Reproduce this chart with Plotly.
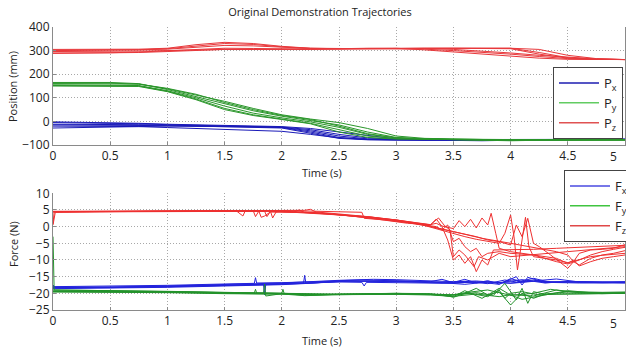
import plotly.graph_objects as go

# ---------------- data: positions (mm) ----------------
t_pos = [0, 0.25, 0.5, 0.75, 1.0, 1.25, 1.5, 1.75, 2.0, 2.25, 2.5, 2.75,
         3.0, 3.25, 3.5, 3.75, 4.0, 4.25, 4.5, 4.75, 5.0]

px1 = [-5, -6, -8, -10, -14, -17, -20, -22, -24, -35, -55, -70, -76, -77, -77, -77, -76, -76, -76, -76, -76]
px2 = [-12, -12, -13, -14, -16, -18, -20, -22, -25, -40, -62, -74, -77, -78, -78, -77, -77, -76, -76, -76, -76]
px3 = [-20, -20, -20, -22, -26, -30, -34, -38, -42, -55, -70, -76, -78, -80, -82, -82, -80, -78, -77, -76, -76]
px4 = [-28, -27, -25, -22, -20, -20, -21, -23, -26, -45, -68, -77, -79, -80, -79, -78, -77, -77, -76, -76, -76]
px5 = [-15, -15, -15, -16, -18, -20, -22, -24, -28, -50, -72, -78, -80, -80, -79, -78, -77, -77, -76, -76, -76]
px6 = [-2, -3, -5, -8, -12, -15, -18, -20, -22, -30, -45, -62, -74, -77, -78, -78, -77, -77, -76, -76, -76]

py1 = [165, 165, 165, 160, 135, 105, 75, 45, 22, 5, -15, -45, -68, -74, -76, -77, -78, -78, -78, -78, -78]
py2 = [160, 160, 160, 158, 138, 112, 85, 55, 28, 10, -5, -30, -62, -72, -75, -76, -77, -77, -77, -77, -77]
py3 = [155, 155, 155, 152, 130, 100, 65, 35, 15, -2, -25, -55, -70, -75, -77, -78, -78, -78, -78, -78, -78]
py4 = [152, 152, 152, 150, 128, 95, 55, 28, 10, -8, -35, -62, -73, -76, -78, -79, -80, -80, -80, -80, -80]
py5 = [150, 150, 150, 148, 126, 92, 50, 25, 8, -10, -45, -68, -75, -77, -78, -78, -78, -78, -78, -78, -78]
py6 = [162, 162, 162, 158, 140, 115, 80, 50, 25, 8, -20, -52, -70, -75, -78, -80, -82, -80, -79, -78, -78]

pz1 = [305, 305, 305, 306, 310, 325, 335, 330, 318, 310, 308, 309, 310, 303, 294, 285, 276, 268, 263, 262, 262]
pz2 = [300, 300, 301, 303, 308, 320, 330, 326, 316, 310, 309, 310, 310, 306, 300, 293, 285, 275, 266, 263, 262]
pz3 = [290, 290, 291, 294, 300, 307, 310, 309, 307, 306, 307, 309, 310, 310, 310, 309, 308, 285, 268, 263, 262]
pz4 = [296, 296, 297, 298, 300, 303, 305, 305, 304, 305, 307, 309, 310, 310, 310, 310, 310, 292, 270, 264, 262]
pz5 = [288, 289, 290, 292, 296, 302, 305, 305, 305, 306, 308, 310, 310, 309, 305, 298, 290, 280, 271, 265, 262]
pz6 = [302, 302, 303, 304, 306, 315, 322, 320, 313, 309, 308, 309, 310, 310, 310, 310, 310, 305, 280, 266, 262]

# ---------------- data: forces (N) ----------------
fx1_t = [0, 0.5, 1.0, 1.5, 1.76, 1.77, 1.78, 2.0, 2.5, 3.0, 3.3, 3.5, 3.6, 3.7, 3.8, 3.9, 4.0, 4.1, 4.2, 4.3, 4.5, 4.7, 5.0]
fx1_v = [-18.0, -17.9, -17.6, -17.2, -17.0, -15.3, -16.9, -16.8, -16.3, -16.4, -16.6, -16.7, -15.8, -16.9, -16.2, -17.2, -15.6, -16.5, -16.0, -16.8, -16.6, -16.7, -16.8]
fx2_t = [0, 0.02, 0.5, 1.0, 1.5, 1.84, 1.85, 1.86, 2.0, 2.2, 2.5, 2.7, 2.72, 2.74, 3.0, 3.5, 3.7, 3.9, 4.05, 4.1, 4.15, 4.3, 4.6, 5.0]
fx2_v = [-17.5, -18.3, -18.2, -17.9, -17.5, -17.3, -20.5, -17.2, -17.1, -16.9, -16.6, -16.7, -17.8, -16.7, -16.8, -17.0, -16.5, -17.3, -15.0, -17.5, -15.2, -16.7, -16.9, -16.9]
fx3_t = [0, 0.5, 1.0, 1.5, 2.0, 2.19, 2.2, 2.21, 2.5, 3.0, 3.3, 3.4, 3.5, 3.8, 4.0, 4.2, 4.4, 4.6, 4.8, 5.0]
fx3_v = [-18.4, -18.3, -18.0, -17.6, -17.1, -16.9, -14.6, -16.9, -16.4, -16.3, -16.5, -15.8, -16.8, -16.6, -16.9, -16.3, -15.7, -16.6, -16.7, -16.6]
fx4_t = [0, 0.5, 1.0, 1.5, 2.0, 2.3, 2.5, 2.7, 3.0, 3.2, 3.4, 3.6, 3.8, 4.0, 4.2, 4.4, 4.7, 5.0]
fx4_v = [-18.6, -18.5, -18.2, -17.8, -17.4, -16.9, -16.2, -16.0, -16.2, -16.4, -16.8, -17.3, -16.6, -17.0, -16.4, -16.5, -16.8, -16.8]
fx5_t = [0, 0.5, 1.0, 1.5, 2.0, 2.5, 2.8, 3.0, 3.3, 3.5, 3.7, 3.9, 4.1, 4.3, 4.5, 4.8, 5.0]
fx5_v = [-18.1, -18.1, -17.8, -17.4, -16.9, -16.1, -15.8, -15.9, -16.2, -16.5, -16.3, -16.8, -15.9, -16.9, -16.4, -16.6, -16.5]
fx6_t = [0, 0.5, 1.0, 1.5, 2.0, 2.4, 2.6, 3.0, 3.4, 3.6, 3.8, 3.95, 4.05, 4.2, 4.35, 4.5, 4.8, 5.0]
fx6_v = [-18.3, -18.3, -18.0, -17.7, -17.3, -16.7, -16.3, -16.5, -16.9, -16.4, -17.1, -16.0, -16.6, -15.5, -16.7, -16.6, -16.8, -16.7]

fy1_t = [0, 0.01, 0.5, 1.0, 1.5, 1.76, 1.77, 1.78, 2.0, 2.2, 2.5, 3.0, 3.4, 3.5, 3.6, 3.7, 3.8, 3.9, 4.0, 4.1, 4.2, 4.3, 4.5, 4.8, 5.0]
fy1_v = [-3.0, -19.0, -19.2, -19.5, -19.8, -19.9, -18.8, -19.9, -20.0, -20.6, -20.3, -20.1, -20.3, -21.2, -20.0, -18.5, -20.5, -19.5, -23.5, -20.0, -21.5, -20.2, -19.6, -19.9, -19.8]
fy2_t = [0, 0.5, 1.0, 1.5, 1.84, 1.85, 1.86, 2.0, 2.25, 2.5, 3.0, 3.5, 3.7, 3.85, 3.95, 4.05, 4.1, 4.15, 4.2, 4.3, 4.6, 5.0]
fy2_v = [-19.4, -19.4, -19.6, -19.9, -20.0, -17.2, -20.8, -20.1, -20.5, -20.3, -20.2, -20.4, -19.8, -20.6, -17.0, -22.0, -18.5, -23.0, -19.5, -20.3, -20.2, -20.0]
fy3_t = [0, 0.5, 1.0, 1.5, 2.0, 2.01, 2.02, 2.3, 2.6, 3.0, 3.3, 3.5, 3.6, 3.75, 3.9, 4.0, 4.1, 4.3, 4.5, 4.7, 5.0]
fy3_v = [-19.0, -19.1, -19.4, -19.7, -20.0, -18.8, -20.0, -20.4, -20.2, -20.0, -20.3, -21.0, -19.2, -21.5, -18.5, -20.5, -21.8, -20.6, -19.2, -19.8, -19.9]
fy4_t = [0, 0.5, 1.0, 1.5, 2.0, 2.5, 3.0, 3.3, 3.5, 3.7, 3.9, 4.0, 4.2, 4.4, 4.6, 4.8, 5.0]
fy4_v = [-19.6, -19.6, -19.8, -20.1, -20.3, -20.4, -20.3, -20.5, -20.9, -20.2, -21.0, -20.4, -20.8, -19.0, -19.8, -20.1, -20.0]
fy5_t = [0, 0.5, 1.0, 1.5, 2.0, 2.5, 3.0, 3.3, 3.45, 3.6, 3.8, 4.0, 4.2, 4.35, 4.5, 4.8, 5.0]
fy5_v = [-19.3, -19.3, -19.5, -19.8, -20.1, -20.2, -20.0, -20.1, -20.8, -19.8, -19.0, -20.6, -20.0, -18.8, -19.5, -19.7, -19.6]
fy6_t = [0, 0.5, 1.0, 1.5, 2.0, 2.2, 2.5, 3.0, 3.5, 3.65, 3.8, 3.9, 3.95, 4.0, 4.1, 4.25, 4.4, 4.7, 5.0]
fy6_v = [-19.5, -19.5, -19.7, -20.0, -20.2, -20.7, -20.4, -20.2, -20.5, -20.0, -21.0, -19.0, -21.5, -20.0, -19.5, -20.5, -20.2, -20.1, -20.0]

fz1_t = [0, 0.02, 0.4, 0.8, 1.2, 1.6, 1.66, 1.68, 1.7, 2.0, 2.2, 2.4, 2.6, 2.8, 3.0, 3.2, 3.3, 3.35, 3.4, 3.5, 3.55, 3.6, 3.65, 3.7, 3.75, 3.8, 3.83, 3.87, 3.9, 4.0, 4.1, 4.2, 4.3, 4.4, 4.5, 4.6, 4.7, 4.8, 4.9, 5.0]
fz1_v = [0.5, 4.3, 4.5, 4.6, 4.7, 4.8, 3.2, 4.7, 4.8, 4.6, 4.3, 3.9, 3.4, 2.8, 2.0, 1.2, 0.6, 1.0, 0.2, -0.6, 1.8, 0.0, 2.2, -0.4, 2.6, 0.5, 4.0, -2.0, -6.5, -7.5, -8.0, -8.5, -9.5, -10.5, -11.2, -10.0, -8.5, -7.5, -6.8, -6.2]
fz2_t = [0, 0.5, 1.0, 1.5, 1.8, 1.82, 1.85, 1.9, 2.1, 2.15, 2.2, 2.4, 2.7, 3.0, 3.2, 3.3, 3.35, 3.4, 3.45, 3.5, 3.55, 3.6, 3.65, 3.7, 3.75, 3.8, 3.85, 4.0, 4.2, 4.4, 4.6, 4.8, 5.0]
fz2_v = [4.4, 4.5, 4.6, 4.7, 4.6, 2.8, 3.2, 4.4, 4.3, 5.0, 4.2, 3.8, 3.0, 2.0, 1.0, 0.5, 2.3, 0.0, -4.0, -10.0, -8.5, -11.0, -9.0, -13.5, -10.0, -11.5, -7.0, -7.0, -6.8, -6.5, -6.2, -5.9, -5.6]
fz3_t = [0, 0.5, 1.0, 1.5, 1.9, 1.92, 1.95, 2.0, 2.3, 2.6, 2.9, 3.2, 3.4, 3.5, 3.6, 3.7, 3.8, 3.9, 3.95, 4.0, 4.03, 4.06, 4.1, 4.13, 4.16, 4.2, 4.3, 4.4, 4.5, 4.6, 4.7, 4.8, 4.9, 5.0]
fz3_v = [4.5, 4.6, 4.7, 4.8, 4.7, 2.6, 4.4, 4.6, 4.2, 3.2, 2.2, 0.8, -1.2, -2.2, -3.0, -3.8, -4.5, -5.0, -2.0, 3.5, -3.0, -13.0, -4.0, 2.8, -6.0, -9.0, -9.5, -10.0, -10.8, -9.8, -9.0, -8.6, -8.3, -8.0]
fz4_t = [0, 0.5, 1.0, 1.5, 2.0, 2.2, 2.4, 2.6, 2.7, 2.72, 2.9, 3.1, 3.3, 3.5, 3.7, 3.8, 3.9, 4.0, 4.05, 4.1, 4.15, 4.2, 4.25, 4.35, 4.45, 4.5, 4.55, 4.6, 4.7, 4.8, 4.9, 5.0]
fz4_v = [4.5, 4.6, 4.7, 4.8, 4.8, 4.7, 4.6, 4.4, 4.3, 2.5, 2.0, 1.2, 0.0, -1.5, -3.0, -4.0, -4.5, -5.5, 0.5, -3.0, 2.5, -5.0, -6.0, -8.5, -11.0, -12.5, -10.5, -11.5, -9.5, -8.5, -8.0, -7.2]
fz5_t = [0, 0.5, 1.0, 1.5, 1.75, 1.77, 1.8, 2.0, 2.25, 2.5, 2.75, 3.0, 3.25, 3.5, 3.75, 4.0, 4.25, 4.4, 4.5, 4.55, 4.6, 4.7, 4.8, 4.9, 5.0]
fz5_v = [4.6, 4.6, 4.7, 4.8, 4.8, 3.0, 4.7, 4.5, 4.0, 3.6, 3.0, 2.0, 0.5, -1.5, -3.5, -5.0, -6.5, -7.5, -8.5, -10.5, -8.0, -7.0, -6.8, -6.5, -5.4]
fz6_t = [0, 0.01, 0.5, 1.0, 1.5, 2.0, 2.2, 2.25, 2.3, 2.5, 2.75, 3.0, 3.2, 3.35, 3.4, 3.45, 3.5, 3.55, 3.6, 3.65, 3.7, 3.75, 3.8, 3.9, 4.0, 4.2, 4.4, 4.5, 4.55, 4.6, 4.7, 4.8, 4.9, 5.0]
fz6_v = [0.8, 4.4, 4.5, 4.6, 4.7, 4.7, 4.9, 5.2, 4.4, 3.8, 3.0, 1.8, 0.8, 0.0, -1.0, 0.5, -4.5, -3.5, -6.0, -7.5, -6.5, -9.0, -8.0, -7.5, -8.0, -8.5, -9.5, -11.0, -10.0, -11.8, -10.5, -9.5, -9.0, -8.5]
fz7_t = [0, 0.5, 1.0, 1.5, 1.85, 1.87, 1.9, 2.2, 2.5, 2.8, 3.1, 3.3, 3.37, 3.42, 3.47, 3.5, 3.55, 3.6, 3.68, 3.72, 3.8, 3.9, 4.0, 4.5, 5.0]
fz7_v = [4.5, 4.5, 4.6, 4.7, 4.6, 3.0, 4.5, 4.3, 3.6, 2.4, 1.0, 0.6, 2.6, 0.4, -1.0, -9.0, -7.0, -8.5, -12.0, -9.0, -10.0, -8.0, -9.0, -7.5, -6.0]

x_ticks = [0, 0.5, 1, 1.5, 2, 2.5, 3, 3.5, 4, 4.5, 5]
x_ticktext = ["0", "0.5", "1", "1.5", "2", "2.5", "3", "3.5", "4", "4.5", ""]
pos_ticks = [-100, 0, 100, 200, 300, 400]
force_ticks = [-25, -20, -15, -10, -5, 0, 5, 10]

# ---------------- styling ----------------
FONT = "Open Sans"
C_PX, C_PY, C_PZ = "#1a1ab8", "#2a962a", "#e8383b"
L_PX, L_PY, L_PZ = "#1c1cb0", "#62cc62", "#e05252"
C_FX, C_FY, C_FZ = "#2323dc", "#22922a", "#ee3030"
L_FX, L_FY, L_FZ = "#4a4ae0", "#40c440", "#e04848"

fig = go.Figure()

pos_groups = [([px1, px2, px3, px4, px5, px6], C_PX),
              ([py1, py2, py3, py4, py5, py6], C_PY),
              ([pz1, pz2, pz3, pz4, pz5, pz6], C_PZ)]
for demos, col in pos_groups:
    for ys in demos:
        fig.add_trace(go.Scatter(x=t_pos, y=ys, mode="lines", xaxis="x", yaxis="y",
                                 line=dict(color=col, width=1), showlegend=False,
                                 hoverinfo="skip"))

force_groups = [([(fx1_t, fx1_v), (fx2_t, fx2_v), (fx3_t, fx3_v), (fx4_t, fx4_v), (fx5_t, fx5_v), (fx6_t, fx6_v)], C_FX),
                ([(fy1_t, fy1_v), (fy2_t, fy2_v), (fy3_t, fy3_v), (fy4_t, fy4_v), (fy5_t, fy5_v), (fy6_t, fy6_v)], C_FY),
                ([(fz1_t, fz1_v), (fz2_t, fz2_v), (fz3_t, fz3_v), (fz4_t, fz4_v), (fz5_t, fz5_v), (fz6_t, fz6_v),
                  (fz7_t, fz7_v)], C_FZ)]
for demos, col in force_groups:
    for ts, vs in demos:
        fig.add_trace(go.Scatter(x=ts, y=vs, mode="lines", xaxis="x2", yaxis="y2",
                                 line=dict(color=col, width=1), showlegend=False,
                                 hoverinfo="skip"))

# legend entries
for name, col in [("P<sub>x</sub>", L_PX), ("P<sub>y</sub>", L_PY), ("P<sub>z</sub>", L_PZ)]:
    fig.add_trace(go.Scatter(x=[None], y=[None], mode="lines", name=name, xaxis="x", yaxis="y",
                             line=dict(color=col, width=1.5), legend="legend"))
for name, col in [("F<sub>x</sub>", L_FX), ("F<sub>y</sub>", L_FY), ("F<sub>z</sub>", L_FZ)]:
    fig.add_trace(go.Scatter(x=[None], y=[None], mode="lines", name=name, xaxis="x2", yaxis="y2",
                             line=dict(color=col, width=1.5), legend="legend2"))

W, H = 626, 352
ML, MR, MT, MB = 53, 1, 27, 42
PW, PH = W - ML - MR, H - MT - MB


def px_x(p):
    return (p - ML) / PW


def px_y(p):
    return 1 - (p - MT) / PH


axis_common = dict(showgrid=True, gridcolor="#a8a8a8", griddash="1px,2px", gridwidth=1,
                   showline=True, linecolor="#8a8a8a", linewidth=1,
                   ticks="inside", ticklen=3, tickcolor="#8a8a8a",
                   tickfont=dict(family=FONT, size=12, color="#222222"),
                   zeroline=False)

LEG_FONT = dict(family=FONT, size=13, color="#222222")

fig.update_layout(
    width=W, height=H,
    margin=dict(l=ML, r=MR, t=MT, b=MB, autoexpand=False),
    paper_bgcolor="white", plot_bgcolor="white",
    font=dict(family=FONT, size=12, color="#222222"),
    title=dict(text="Original Demonstration Trajectories", font=dict(family=FONT, size=11, color="#222222"),
               xref="container", x=320 / W, xanchor="center", yref="container", y=1 - 12 / H, yanchor="middle"),
    xaxis=dict(domain=[0, 1], range=[0, 5], anchor="y", tickvals=x_ticks, ticktext=x_ticktext, **axis_common),
    yaxis=dict(domain=[px_y(145), 1], range=[-100, 400], anchor="x", tickvals=pos_ticks, mirror=True, **axis_common),
    xaxis2=dict(domain=[0, 1], range=[0, 5], anchor="y2", tickvals=x_ticks, ticktext=x_ticktext, **axis_common),
    yaxis2=dict(domain=[0, px_y(193.3)], range=[-25, 10], anchor="x2", tickvals=force_ticks, mirror=True, **axis_common),
    legend=dict(x=px_x(553), y=px_y(67), xanchor="left", yanchor="top", bgcolor="white",
                bordercolor="#444444", borderwidth=1, font=LEG_FONT,
                itemwidth=40, tracegroupgap=0),
    legend2=dict(x=px_x(564), y=px_y(170), xanchor="left", yanchor="top", bgcolor="white",
                 bordercolor="#444444", borderwidth=1, font=LEG_FONT,
                 itemwidth=40, tracegroupgap=0),
    showlegend=True,
)

annos = [
    dict(text="Time (s)", x=px_x(322), y=px_y(172), xref="paper", yref="paper", showarrow=False,
         xanchor="center", yanchor="middle", font=dict(family=FONT, size=11, color="#222222")),
    dict(text="Time (s)", x=px_x(322), y=px_y(341), xref="paper", yref="paper", showarrow=False,
         xanchor="center", yanchor="middle", font=dict(family=FONT, size=11, color="#222222")),
    dict(text="Position (mm)", x=px_x(13), y=px_y(87), xref="paper", yref="paper", showarrow=False,
         textangle=-90, xanchor="center", yanchor="middle", font=dict(family=FONT, size=11, color="#222222")),
    dict(text="Force (N)", x=px_x(13), y=px_y(244), xref="paper", yref="paper", showarrow=False,
         textangle=-90, xanchor="center", yanchor="middle", font=dict(family=FONT, size=11, color="#222222")),
    dict(text="5", x=5, xref="x", y=px_y(157), yref="paper", xshift=-12, showarrow=False,
         xanchor="center", yanchor="middle", font=dict(family=FONT, size=12, color="#222222")),
    dict(text="5", x=5, xref="x2", y=px_y(323), yref="paper", xshift=-12, showarrow=False,
         xanchor="center", yanchor="middle", font=dict(family=FONT, size=12, color="#222222")),
]
fig.update_layout(annotations=annos)

fig.write_html("out.html", config={"displayModeBar": False},
               post_script="document.body.style.margin='0';document.body.style.overflow='hidden';")
